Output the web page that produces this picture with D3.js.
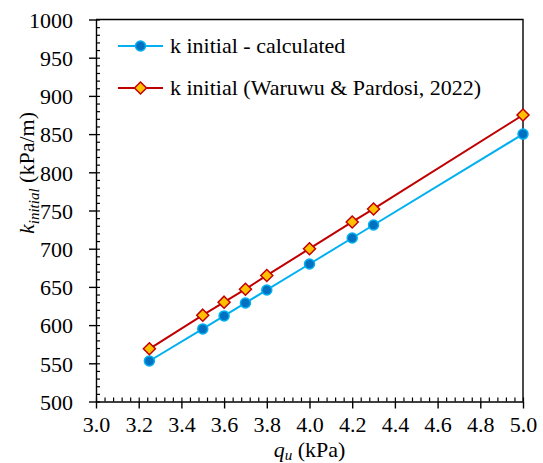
<!DOCTYPE html>
<html><head><meta charset="utf-8">
<script src="https://cdn.jsdelivr.net/npm/d3@7"></script>
</head><body style="margin:0">
<script>
const qu = [3.25, 3.5, 3.6, 3.7, 3.8, 4.0, 4.2, 4.3, 5.0];
const kCalculated = [553, 595, 612, 629, 646, 680, 714, 731, 850];
const kWaruwu = [569, 613, 630, 647, 665, 700, 735, 752, 875];
const xTicks = [3.0, 3.2, 3.4, 3.6, 3.8, 4.0, 4.2, 4.4, 4.6, 4.8, 5.0];
const yTicks = [500, 550, 600, 650, 700, 750, 800, 850, 900, 950, 1000];
const seriesNames = ["k initial - calculated", "k initial (Waruwu & Pardosi, 2022)"];

const W = 543, H = 463;
const L = 96, R = 523, T = 19.5, B = 401.5;
const FONT = "Liberation Serif";
const fs = "22px";
const fsSub = "15px";

const svg = d3.select("body").append("svg").attr("width", W).attr("height", H)
  .style("display", "block").style("font-family", `"${FONT}"`);
const x = d3.scaleLinear().domain([3.0, 5.0]).range([L, R]);
const y = d3.scaleLinear().domain([500, 1000]).range([B, T]);

function setFont(sel, size) {
  sel.each(function () {
    this.style.setProperty("font-family", `"${FONT}"`, "important");
    this.style.setProperty("font-size", size, "important");
  });
  return sel;
}

// frame top/right
svg.append("path").attr("d", `M${L},${T}H${R}V${B}`).attr("fill", "none")
  .attr("stroke", "#000").attr("stroke-width", 1.4);

// minor ticks
const xMinor = d3.range(0, 51).map(i => 3.0 + i * 0.04);
const yMinor = d3.range(0, 51).map(i => 500 + i * 10);
svg.append("g").attr("transform", `translate(0,${B})`)
  .call(d3.axisBottom(x).tickValues(xMinor).tickSize(-4).tickFormat(""))
  .call(g => g.select(".domain").remove())
  .call(g => g.selectAll("text").remove())
  .selectAll("line").attr("stroke", "#000").attr("stroke-width", 1.2);
svg.append("g").attr("transform", `translate(${L},0)`)
  .call(d3.axisLeft(y).tickValues(yMinor).tickSize(-4).tickFormat(""))
  .call(g => g.select(".domain").remove())
  .call(g => g.selectAll("text").remove())
  .selectAll("line").attr("stroke", "#000").attr("stroke-width", 1.2);

// major axes
const gx = svg.append("g").attr("transform", `translate(0,${B})`)
  .call(d3.axisBottom(x).tickValues(xTicks).tickSizeInner(7).tickSizeOuter(0).tickPadding(8).tickFormat(d3.format(".1f")));
const gy = svg.append("g").attr("transform", `translate(${L},0)`)
  .call(d3.axisLeft(y).tickValues(yTicks).tickSizeInner(7).tickSizeOuter(0).tickPadding(16).tickFormat(d3.format("d")));
[gx, gy].forEach(g => {
  g.attr("font-family", FONT).attr("font-size", 22);
  g.select(".domain").attr("stroke", "#000").attr("stroke-width", 1.4);
  g.selectAll(".tick line").attr("stroke", "#000").attr("stroke-width", 1.4);
  setFont(g.selectAll("text"), fs).attr("fill", "#000");
});
gy.selectAll("text").attr("dy", "0.35em");

// axis titles
const xt = svg.append("text").attr("x", (L + R) / 2).attr("y", 457).attr("text-anchor", "middle");
setFont(xt, fs);
xt.append("tspan").style("font-style", "italic").text("q");
xt.append("tspan").style("font-style", "italic").style("font-size", fsSub).attr("dy", 3).text("u");
xt.append("tspan").attr("dy", -3).text(" (kPa)");

const yt = svg.append("text").attr("transform", `translate(34,173) rotate(-90)`).attr("text-anchor", "middle");
setFont(yt, fs);
yt.append("tspan").style("font-style", "italic").text("k");
yt.append("tspan").style("font-style", "italic").style("font-size", fsSub).attr("dy", 5).text("initial");
yt.append("tspan").attr("dy", -5).text(" (kPa/m)");

// series
const calc = qu.map((q, i) => [q, kCalculated[i]]);
const waru = qu.map((q, i) => [q, kWaruwu[i]]);
const line = d3.line().x(d => x(d[0])).y(d => y(d[1]));

svg.append("path").datum(calc).attr("d", line).attr("fill", "none").attr("stroke", "#00B0F0").attr("stroke-width", 2);
svg.append("path").datum(waru).attr("d", line).attr("fill", "none").attr("stroke", "#C00000").attr("stroke-width", 2);

const diamond = (cx, cy, r) => `M${cx},${cy - r}L${cx + r},${cy}L${cx},${cy + r}L${cx - r},${cy}Z`;

function circleMark(sel, cx, cy) {
  sel.append("circle").attr("cx", cx).attr("cy", cy).attr("r", 5)
    .attr("fill", "#0070C0").attr("stroke", "#00B0F0").attr("stroke-width", 1.5);
}
function diamondMark(sel, cx, cy) {
  sel.append("path").attr("d", diamond(cx, cy, 6)).attr("fill", "#FFC000")
    .attr("stroke", "#C00000").attr("stroke-width", 1.5);
}

const gc = svg.append("g");
calc.forEach(d => circleMark(gc, x(d[0]), y(d[1])));
const gw = svg.append("g");
waru.forEach(d => diamondMark(gw, x(d[0]), y(d[1])));

// legend
const leg = svg.append("g");
const ly = [46, 88];
leg.append("line").attr("x1", 118).attr("x2", 163).attr("y1", ly[0]).attr("y2", ly[0]).attr("stroke", "#00B0F0").attr("stroke-width", 2);
circleMark(leg, 140.5, ly[0]);
leg.append("line").attr("x1", 118).attr("x2", 163).attr("y1", ly[1]).attr("y2", ly[1]).attr("stroke", "#C00000").attr("stroke-width", 2);
diamondMark(leg, 140.5, ly[1]);
seriesNames.forEach((n, i) => {
  const t = svg.append("text").attr("x", 170).attr("y", ly[i]).attr("dy", "0.33em").text(n);
  setFont(t, fs);
});
</script>
</body></html>
